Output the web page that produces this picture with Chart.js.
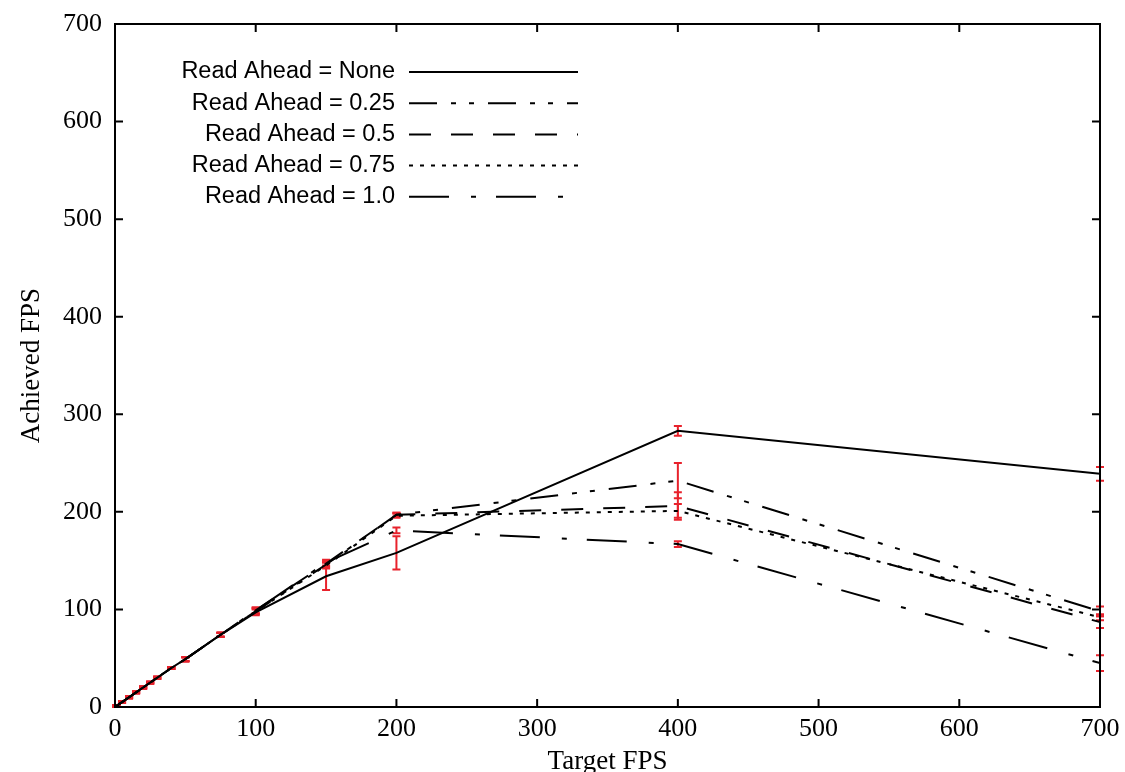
<!DOCTYPE html>
<html>
<head>
<meta charset="utf-8">
<script src="https://cdn.jsdelivr.net/npm/chart.js@4/dist/chart.umd.min.js"></script>
<style>
  html, body { margin: 0; padding: 0; background: #fff; }
  canvas { display: block; }
</style>
</head>
<body>
<canvas id="fpsChart" width="1125" height="772"></canvas>
<script>
// ==========================
// DATA
// ==========================
const targetFps = [1, 5, 10, 15, 20, 25, 30, 40, 50, 75, 100, 150, 200, 400, 700];

const fpsNone = [1, 5, 10, 15, 20, 25, 30, 40, 49, 74, 97, 134, 158, 283, 239];
const errNone = [1, 1, 1, 1, 1, 1, 1, 1, 2, 2, 3, 14, 17, 5, 7];

const fps025 = [1, 5, 10, 15, 20, 25, 30, 40, 49, 74, 98, 146, 197, 232, 98];
const err025 = [1, 1, 1, 1, 1, 1, 1, 1, 2, 2, 3, 3, 2, 18, 5];

const fps05 = [1, 5, 10, 15, 20, 25, 30, 40, 49, 74, 99, 147, 197, 206, 87];
const err05 = [1, 1, 1, 1, 1, 1, 1, 1, 2, 2, 3, 3, 2, 14, 6];

const fps075 = [1, 5, 10, 15, 20, 25, 30, 40, 49, 74, 98, 145, 196, 201, 92];
const err075 = [1, 1, 1, 1, 1, 1, 1, 1, 2, 2, 3, 3, 2, 7, 3];

const fps10 = [1, 5, 10, 15, 20, 25, 30, 40, 49, 74, 99, 148, 181, 167, 45];
const err10 = [1, 1, 1, 1, 1, 1, 1, 1, 2, 2, 3, 3, 3, 3, 8];

const seriesLabels = ["Read Ahead = None", "Read Ahead = 0.25", "Read Ahead = 0.5", "Read Ahead = 0.75", "Read Ahead = 1.0"];
const seriesValues = [fpsNone, fps025, fps05, fps075, fps10];
const seriesErrors = [errNone, err025, err05, err075, err10];
const seriesDashes = [[], [28, 14, 5, 13, 5, 14], [22, 20], [4, 7], [40, 22, 5, 20]];

const xTitle = "Target FPS";
const yTitle = "Achieved FPS";

const SERIF = "'Liberation Serif', 'DejaVu Serif', serif";
const SANS = "'Liberation Sans', Arial, sans-serif";
const ERR_COLOR = "#e8222c";

// ==========================
// PLUGINS
// ==========================
const errorBars = {
    id: "errorBars",
    beforeDatasetsDraw(chart) {
        const { ctx, scales: { x, y } } = chart;
        ctx.save();
        ctx.strokeStyle = ERR_COLOR;
        ctx.lineWidth = 2;
        chart.data.datasets.forEach((ds, di) => {
            const errs = seriesErrors[di];
            ds.data.forEach((p, i) => {
                const px = x.getPixelForValue(p.x);
                const top = y.getPixelForValue(p.y + errs[i]);
                const bot = y.getPixelForValue(Math.max(0, p.y - errs[i]));
                ctx.beginPath();
                ctx.moveTo(px, top); ctx.lineTo(px, bot);
                ctx.moveTo(px - 4, top); ctx.lineTo(px + 4, top);
                ctx.moveTo(px - 4, bot); ctx.lineTo(px + 4, bot);
                ctx.stroke();
            });
        });
        ctx.restore();
    }
};

const frameAndKey = {
    id: "frameAndKey",
    afterDraw(chart) {
        const { ctx, chartArea: a, scales: { x, y } } = chart;
        ctx.save();
        // frame
        ctx.strokeStyle = "#000";
        ctx.lineWidth = 2;
        ctx.setLineDash([]);
        ctx.strokeRect(a.left, a.top, a.right - a.left, a.bottom - a.top);
        // inward ticks, mirrored
        const tl = 8;
        ctx.beginPath();
        x.ticks.forEach(t => {
            const px = x.getPixelForValue(t.value);
            ctx.moveTo(px, a.bottom); ctx.lineTo(px, a.bottom - tl);
            ctx.moveTo(px, a.top); ctx.lineTo(px, a.top + tl);
        });
        y.ticks.forEach(t => {
            const py = y.getPixelForValue(t.value);
            ctx.moveTo(a.left, py); ctx.lineTo(a.left + tl, py);
            ctx.moveTo(a.right, py); ctx.lineTo(a.right - tl, py);
        });
        ctx.stroke();

        // key
        ctx.font = "23.5px " + SANS;
        ctx.fillStyle = "#000";
        ctx.textAlign = "right";
        ctx.textBaseline = "middle";
        seriesLabels.forEach((label, i) => {
            const ky = 72 + i * 31.2;
            ctx.fillText(label, 395, ky);
            ctx.beginPath();
            ctx.lineWidth = 2;
            ctx.setLineDash(seriesDashes[i]);
            ctx.moveTo(409, ky);
            ctx.lineTo(578, ky);
            ctx.stroke();
        });
        ctx.restore();
    }
};

// ==========================
// BUILD CHART
// ==========================
new Chart(document.getElementById("fpsChart"), {
    type: "line",
    data: {
        datasets: seriesValues.map((vals, i) => ({
            label: seriesLabels[i],
            data: targetFps.map((t, j) => ({ x: t, y: vals[j] })),
            borderColor: "#000",
            borderWidth: 2,
            borderDash: seriesDashes[i],
            pointRadius: 0,
            fill: false,
            tension: 0
        }))
    },
    options: {
        responsive: false,
        animation: false,
        devicePixelRatio: 1,
        layout: { padding: { top: 24, right: 25, left: 0, bottom: 0 } },
        plugins: {
            legend: { display: false },
            tooltip: { enabled: false }
        },
        scales: {
            x: {
                type: "linear",
                min: 0,
                max: 700,
                afterFit: s => { s.height = 65; s.paddingLeft = 0; s.paddingRight = 0; },
                border: { display: false },
                grid: { display: false, drawTicks: false },
                ticks: {
                    stepSize: 100,
                    color: "#000",
                    padding: 7,
                    maxRotation: 0,
                    font: { family: SERIF, size: 26 }
                },
                title: {
                    display: true,
                    text: xTitle,
                    color: "#000",
                    padding: { top: 0, bottom: -6 },
                    font: { family: SERIF, size: 27 }
                }
            },
            y: {
                min: 0,
                max: 700,
                afterFit: s => { s.width = 115; s.paddingTop = 0; s.paddingBottom = 0; },
                border: { display: false },
                grid: { display: false, drawTicks: false },
                ticks: {
                    stepSize: 100,
                    color: "#000",
                    padding: 13,
                    font: { family: SERIF, size: 26 }
                },
                title: {
                    display: true,
                    text: yTitle,
                    color: "#000",
                    padding: { top: 16, bottom: 0 },
                    font: { family: SERIF, size: 27 }
                }
            }
        }
    },
    plugins: [errorBars, frameAndKey]
});
</script>
</body>
</html>
